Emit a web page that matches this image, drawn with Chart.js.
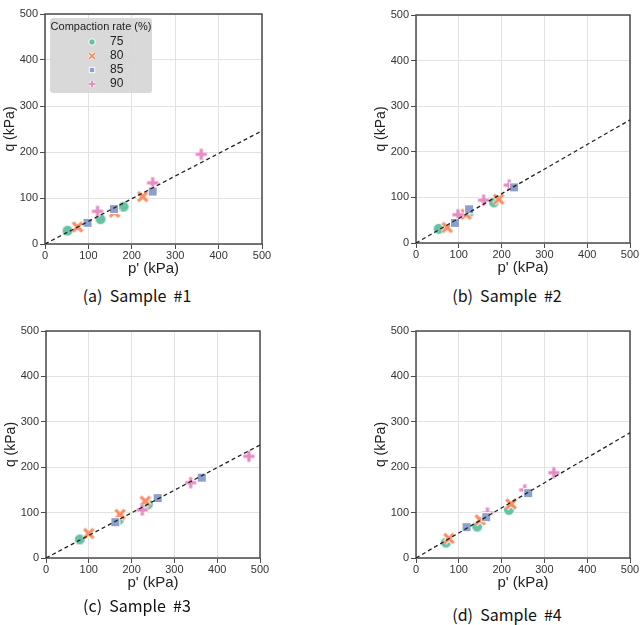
<!DOCTYPE html>
<html>
<head>
<meta charset="utf-8">
<script src="https://cdn.jsdelivr.net/npm/chart.js@4.4.0/dist/chart.umd.min.js"></script>
<style>
  body { margin: 0; background: #fff; width: 643px; height: 625px; position: relative; overflow: hidden; }
  canvas { position: absolute; }
  .cap { position: absolute; font-family: "Noto Sans CJK KR", sans-serif; font-size: 16px; line-height: 20px;
         color: #111; transform: translateX(-50%); white-space: pre; }
</style>
</head>
<body>
<canvas id="c0" width="274" height="278" style="left:0px;top:4px"></canvas>
<canvas id="c1" width="271" height="276" style="left:371px;top:5px"></canvas>
<canvas id="c2" width="271" height="275" style="left:1px;top:321px"></canvas>
<canvas id="c3" width="271" height="275" style="left:371px;top:321px"></canvas>
<div class="cap" id="t0" style="left:137px;top:285px"></div>
<div class="cap" id="t1" style="left:507px;top:285px"></div>
<div class="cap" id="t2" style="left:137px;top:595px"></div>
<div class="cap" id="t3" style="left:507px;top:604px"></div>
<script>
// q-p' plots, one per sample
const captions = ['(a) Sample #1', '(b) Sample #2', '(c) Sample #3', '(d) Sample #4'];
const rates = ['75', '80', '85', '90'];
const rateColors = ['#66c2a5', '#fc8d62', '#8da0cb', '#e78ac3'];
const axisTicks = [0, 100, 200, 300, 400, 500];

// p' and q per compaction rate (rows: 75, 80, 85, 90)
const p1 = [[52, 128, 181], [75, 160, 225], [98, 159, 248], [121, 248, 360]];
const q1 = [[29, 54, 81], [37, 69, 103], [46, 76, 114], [71, 133, 195]];
const p2 = [[53, 123, 182], [73, 117, 193], [91, 124, 229], [98, 158, 218]];
const q2 = [[31, 66, 89], [34, 63, 96], [44, 74, 122], [62, 94, 127]];
const p3 = [[79, 170, 238], [100, 173, 232], [162, 261, 364], [225, 338, 474]];
const q3 = [[41, 84, 118], [54, 96, 125], [79, 132, 177], [106, 166, 224]];
const p4 = [[70, 143, 217], [77, 150, 222], [118, 164, 262], [167, 254, 322]];
const q4 = [[34, 69, 106], [43, 84, 119], [68, 90, 143], [99, 150, 188]];

// dashed line: q at p' = 500
const lineEnd = [246, 270, 249, 276];

const allP = [p1, p2, p3, p4];
const allQ = [q1, q2, q3, q4];

// marker pictures (seaborn-like with white edge)
function markerImg(kind, color, s) {
  const c = document.createElement('canvas');
  const n = Math.ceil(16 * s) + 2;
  c.width = c.height = n;
  const g = c.getContext('2d');
  const m = n / 2;
  g.fillStyle = color;
  g.strokeStyle = '#fff';
  g.lineWidth = 1;
  if (kind === 'circle') {
    g.beginPath(); g.arc(m, m, 5.5 * s, 0, Math.PI * 2); g.fill(); g.stroke();
  } else if (kind === 'square') {
    const h = 4.5 * s;
    g.fillRect(m - h, m - h, 2 * h, 2 * h); g.strokeRect(m - h, m - h, 2 * h, 2 * h);
  } else {
    const a = (kind === 'x' ? 4.7 : 5.6) * s;
    const segs = kind === 'x'
      ? [[m - a, m - a, m + a, m + a], [m - a, m + a, m + a, m - a]]
      : [[m - a, m, m + a, m], [m, m - a, m, m + a]];
    g.lineCap = 'butt';
    g.strokeStyle = '#fff'; g.lineWidth = 5 * s;
    segs.forEach(t => { g.beginPath(); g.moveTo(t[0], t[1]); g.lineTo(t[2], t[3]); g.stroke(); });
    g.strokeStyle = color; g.lineWidth = 3.2 * s;
    segs.forEach(t => { g.beginPath(); g.moveTo(t[0], t[1]); g.lineTo(t[2], t[3]); g.stroke(); });
  }
  return c;
}
const kinds = ['circle', 'x', 'square', 'plus'];
const markers = kinds.map((k, i) => markerImg(k, rateColors[i], 1));
const smallMarkers = kinds.map((k, i) => markerImg(k, rateColors[i], 0.6));
const drawOrder = [4, 3, 1, 2]; // blue on top, green at the bottom

const fam = 'Arial, "Liberation Sans", sans-serif';

const framePlugin = {
  id: 'frame',
  beforeDatasetsDraw(chart) {
    const a = chart.chartArea, g = chart.ctx;
    g.save();
    g.strokeStyle = '#4a4a4a';
    g.lineWidth = 1.5;
    g.strokeRect(a.left, a.top, a.right - a.left, a.bottom - a.top);
    if (chart.canvas.id === 'c0') {
      // legend box
      g.fillStyle = 'rgba(214,214,214,0.92)';
      g.beginPath();
      g.roundRect(50, 14, 102, 75, 3);
      g.fill();
      g.fillStyle = '#222';
      g.textBaseline = 'middle';
      g.textAlign = 'center';
      g.font = '11px ' + fam;
      g.fillText('Compaction rate (%)', 101, 23);
      g.textAlign = 'left';
      g.font = '12px ' + fam;
      rates.forEach((r, i) => {
        const y = 38 + i * 14;
        const im = smallMarkers[i];
        g.drawImage(im, 92 - im.width / 2, y - im.height / 2);
        g.fillText(r, 110, y);
      });
    }
    g.restore();
  }
};

const tickFont = { family: fam, size: 11 };

function axis(title, isY) {
  return {
    type: 'linear',
    min: 0, max: 500,
    afterBuildTicks: s => { s.ticks = axisTicks.map(v => ({ value: v })); },
    afterFit: s => { if (isY) s.width = 45; else s.height = 38; },
    grid: { color: '#e2e2e2', lineWidth: 1, drawTicks: true, tickLength: 5, tickColor: '#4a4a4a' },
    border: { display: false },
    ticks: { font: tickFont, color: '#333', padding: isY ? 2 : 0, maxRotation: 0 },
    title: { display: true, text: title, font: { family: fam, size: isY ? 14 : 15 }, color: '#222',
             padding: isY ? { top: 2, bottom: 2 } : { top: 2, bottom: 4 } }
  };
}

for (let k = 0; k < 4; k++) {
  document.getElementById('t' + k).textContent = captions[k].replace(/ /g, '  ');
  const datasets = rates.map((r, i) => ({
    label: r,
    data: allP[k][i].map((p, j) => ({ x: p, y: allQ[k][i][j] })),
    pointStyle: markers[i],
    pointRadius: 6,
    backgroundColor: rateColors[i],
    order: drawOrder[i]
  }));
  datasets.push({
    type: 'line',
    label: 'CSL',
    data: [{ x: 0, y: 0 }, { x: 500, y: lineEnd[k] }],
    borderColor: '#222',
    borderWidth: 1.3,
    borderDash: [4, 3],
    pointRadius: 0,
    fill: false,
    order: 0
  });
  new Chart(document.getElementById('c' + k).getContext('2d'), {
    type: 'scatter',
    data: { datasets: datasets },
    options: {
      responsive: false,
      animation: false,
      layout: { padding: { left: 0, top: 10, right: 12, bottom: 0 } },
      plugins: { legend: { display: false }, tooltip: { enabled: false } },
      scales: { x: axis("p' (kPa)", false), y: axis('q (kPa)', true) }
    },
    plugins: [framePlugin]
  });
}
</script>
</body>
</html>
